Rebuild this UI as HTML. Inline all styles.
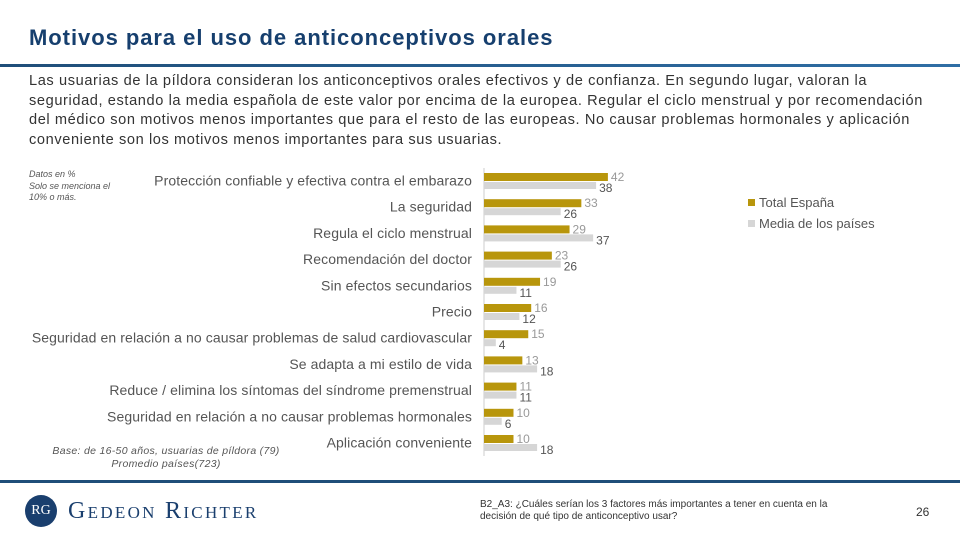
<!DOCTYPE html>
<html><head><meta charset="utf-8"><style>
body{margin:0;width:960px;height:540px;background:#fff;position:relative;overflow:hidden;font-family:"Liberation Sans",sans-serif}
.a{position:absolute;white-space:nowrap}
</style></head><body>
<div class="a" style="left:29px;top:25px;font-size:22px;letter-spacing:0.95px;color:#163f6e;font-weight:bold">Motivos para el uso de anticonceptivos orales</div>
<div class="a" style="left:0;top:64px;width:960px;height:3px;background:linear-gradient(90deg,#1f4e79,#2f6ea5)"></div>
<div class="a" style="left:29px;top:72px;font-size:14.6px;letter-spacing:0.6px;line-height:19.5px;color:#333">Las usuarias de la píldora consideran los anticonceptivos orales efectivos y de confianza. En segundo lugar, valoran la<br>seguridad, estando la media española de este valor por encima de la europea. Regular el ciclo menstrual y por recomendación<br>del médico son motivos menos importantes que para el resto de las europeas. No causar problemas hormonales y aplicación<br>conveniente son los motivos menos importantes para sus usuarias.</div>
<div class="a" style="left:29px;top:169px;font-size:9px;line-height:11.5px;color:#555;font-style:italic;white-space:normal;width:100px">Datos en %<br>Solo se menciona el 10% o más.</div>
<div class="a" style="left:46px;top:445px;font-size:10.5px;letter-spacing:0.3px;line-height:13px;color:#555;font-style:italic;text-align:center;width:240px">Base: de 16-50 años, usuarias de píldora (79)<br>Promedio países(723)</div>
<svg class="a" style="left:0;top:0" width="960" height="540" id="chart"></svg>
<div class="a" style="left:0;top:480px;width:960px;height:3px;background:#1f4e79"></div>
<div class="a" style="left:25px;top:495px;width:32px;height:32px;border-radius:50%;background:#1a3f6e;color:#fff;font-family:'Liberation Serif',serif;font-size:14px;line-height:32px;text-align:center">RG</div>
<div class="a" style="left:68px;top:498px;font-family:'Liberation Serif',serif;font-size:24px;letter-spacing:2.3px;color:#1a3f6e;font-variant:small-caps">Gedeon Richter</div>
<div class="a" style="left:480px;top:499px;font-size:10px;line-height:12px;color:#333;white-space:normal;width:362px">B2_A3: ¿Cuáles serían los 3 factores más importantes a tener en cuenta en la decisión de qué tipo de anticonceptivo usar?</div>
<div class="a" style="left:916px;top:505px;font-size:12px;color:#333">26</div>
<script>
const categories=["Protección confiable y efectiva contra el embarazo","La seguridad","Regula el ciclo menstrual","Recomendación del doctor","Sin efectos secundarios","Precio","Seguridad en relación a no causar problemas de salud cardiovascular","Se adapta a mi estilo de vida","Reduce / elimina los síntomas del síndrome premenstrual","Seguridad en relación a no causar problemas hormonales","Aplicación conveniente"];
const spain=[42,33,29,23,19,16,15,13,11,10,10];
const avg=[38,26,37,26,11,12,4,18,11,6,18];
const seriesNames=["Total España","Media de los países"];
const svg=document.getElementById('chart');const NS='http://www.w3.org/2000/svg';
const x0=484,k=2.95,y0=173,step=26.2;
const xs=v=>x0+v*k, ys=i=>y0+i*step;
function mk(t,a,txt){const e=document.createElementNS(NS,t);for(const n in a)e.setAttribute(n,a[n]);if(txt!==undefined)e.textContent=txt;svg.appendChild(e);return e;}
const ax=mk('line',{x1:x0,x2:x0,y1:168,y2:456,stroke:'#ccc','stroke-width':1});


categories.forEach((c,i)=>{
 const y=ys(i);
 const l=mk('text',{x:472,y:y+12.5,'text-anchor':'end','font-size':14,'letter-spacing':0.1,fill:'#555','font-family':'Liberation Sans'},c);
 
 
 const b=mk('rect',{x:x0,y:y,width:xs(spain[i])-x0,height:8,fill:'#b8960c'});
 
 
 const g=mk('rect',{x:x0,y:y+9,width:xs(avg[i])-x0,height:7,fill:'#d6d6d6'});
 
 
 const t1=mk('text',{x:xs(spain[i])+3,y:y+8,'font-size':12,fill:'#999'},spain[i]);
 
 
 const t2=mk('text',{x:xs(avg[i])+3,y:y+19,'font-size':12,fill:'#555'},avg[i]);
 
 
});
[['#b8960c',0],['#d6d6d6',1]].forEach(([col,j])=>{
 const r=mk('rect',{x:748,y:199+j*21,width:7,height:7,fill:col});
 
 
 const t=mk('text',{x:759,y:207+j*21,'font-size':13,fill:'#555'},seriesNames[j]);
 
 
});
</script>
</body></html>
